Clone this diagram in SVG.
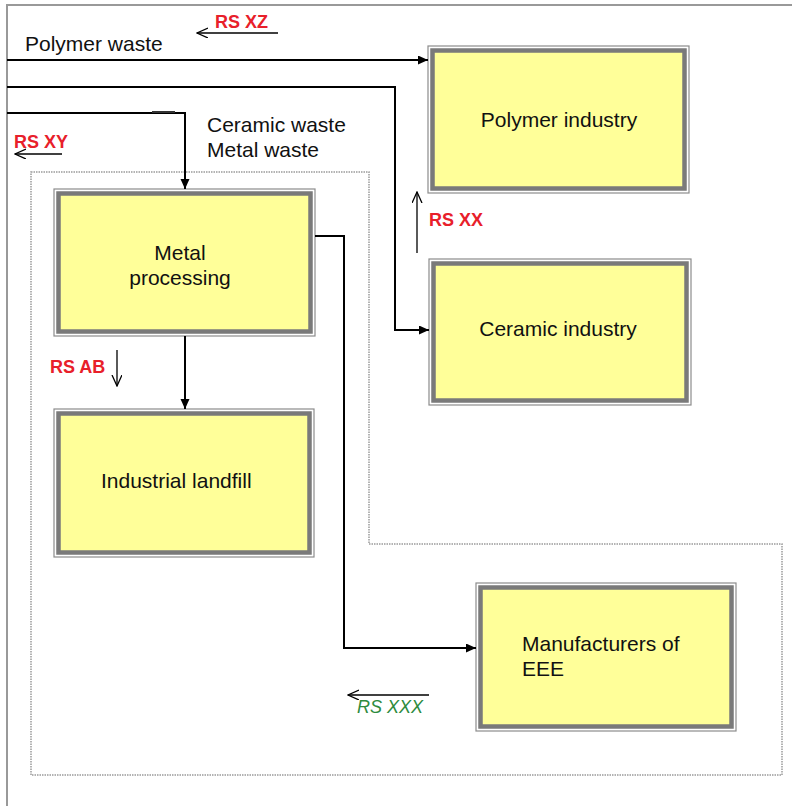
<svg xmlns="http://www.w3.org/2000/svg" width="792" height="806" viewBox="0 0 792 806">
<style>
text{font-family:"Liberation Sans",Arial,sans-serif;}
.lbl{font-size:21px;fill:#111;}
.rs{font-size:18px;font-weight:bold;fill:#e8202a;}
.rsg{font-size:18px;font-style:italic;fill:#2e8b3e;}
.bo{fill:#fff;stroke:#8c8c8c;stroke-width:1.2;}
.bi{fill:#ffff99;stroke:#7a7a7a;stroke-width:4.5;}
.con{fill:none;stroke:#000;stroke-width:2;marker-end:url(#fa);}
.rsa{fill:none;stroke:#000;stroke-width:1.3;marker-end:url(#oa);}
.frame{fill:none;stroke:#999;stroke-width:2;}
.zone{fill:none;stroke:#9a9a9a;stroke-width:1.5;stroke-dasharray:1.5 1;}
</style>
<defs>
<marker id="fa" markerUnits="userSpaceOnUse" markerWidth="10" markerHeight="10" refX="10" refY="4.5" orient="auto">
<path d="M0,0 L10,4.5 L0,9 z" fill="#000"/>
</marker>
<marker id="oa" markerUnits="userSpaceOnUse" markerWidth="12" markerHeight="12" refX="11" refY="5" orient="auto">
<path d="M0,0 L11,5 L0,10" fill="none" stroke="#000" stroke-width="1.3"/>
</marker>
</defs>

<path class="frame" d="M7,806 V5 H792"/>
<path class="zone" d="M31,172 H369 V544 H782 V775 H31 Z"/>

<g id="polymer-industry">
<rect class="bo" x="428" y="46" width="261" height="147"/>
<rect class="bi" x="432.5" y="50.5" width="252" height="138"/>
<text class="lbl" x="559" y="127" text-anchor="middle">Polymer industry</text>
</g>
<g id="ceramic-industry">
<rect class="bo" x="429" y="259" width="262" height="146"/>
<rect class="bi" x="433.5" y="263.5" width="253" height="137"/>
<text class="lbl" x="558" y="336" text-anchor="middle">Ceramic industry</text>
</g>
<g id="metal-processing">
<rect class="bo" x="54" y="189" width="261" height="147"/>
<rect class="bi" x="58.5" y="193.5" width="252" height="138"/>
<text class="lbl" x="180" y="260" text-anchor="middle">Metal</text>
<text class="lbl" x="180" y="285" text-anchor="middle">processing</text>
</g>
<g id="industrial-landfill">
<rect class="bo" x="54" y="409" width="260" height="148"/>
<rect class="bi" x="58.5" y="413.5" width="251" height="139"/>
<text class="lbl" x="101" y="488">Industrial landfill</text>
</g>
<g id="manufacturers-eee">
<rect class="bo" x="476" y="583" width="260" height="148"/>
<rect class="bi" x="480.5" y="587.5" width="251" height="139"/>
<text class="lbl" x="522" y="651">Manufacturers of</text>
<text class="lbl" x="522" y="676">EEE</text>
</g>

<g id="connectors">
<path class="con" d="M7,60 H428"/>
<path class="con" d="M7,87 H395 V330 H429"/>
<path class="con" d="M7,113 H185 V189"/>
<path d="M152,112 H175" stroke="#333" stroke-width="2"/>
<path class="con" d="M185,336 V409"/>
<path class="con" d="M315,236 H344 V648 H476"/>
</g>

<g id="labels">
<text class="lbl" x="25" y="51">Polymer waste</text>
<text class="lbl" x="207" y="132">Ceramic waste</text>
<text class="lbl" x="207" y="157">Metal waste</text>
<text class="rs" x="215" y="28">RS XZ</text>
<path class="rsa" d="M278,33 H197"/>
<text class="rs" x="14" y="148">RS XY</text>
<path class="rsa" d="M62,154 H15"/>
<text class="rs" x="429" y="226">RS XX</text>
<path class="rsa" d="M417,253 V192"/>
<text class="rs" x="50" y="373">RS AB</text>
<path class="rsa" d="M117,350 V386"/>
<text class="rsg" x="357" y="713">RS XXX</text>
<path class="rsa" d="M429,695 H348" stroke-width="2"/>
</g>
</svg>
